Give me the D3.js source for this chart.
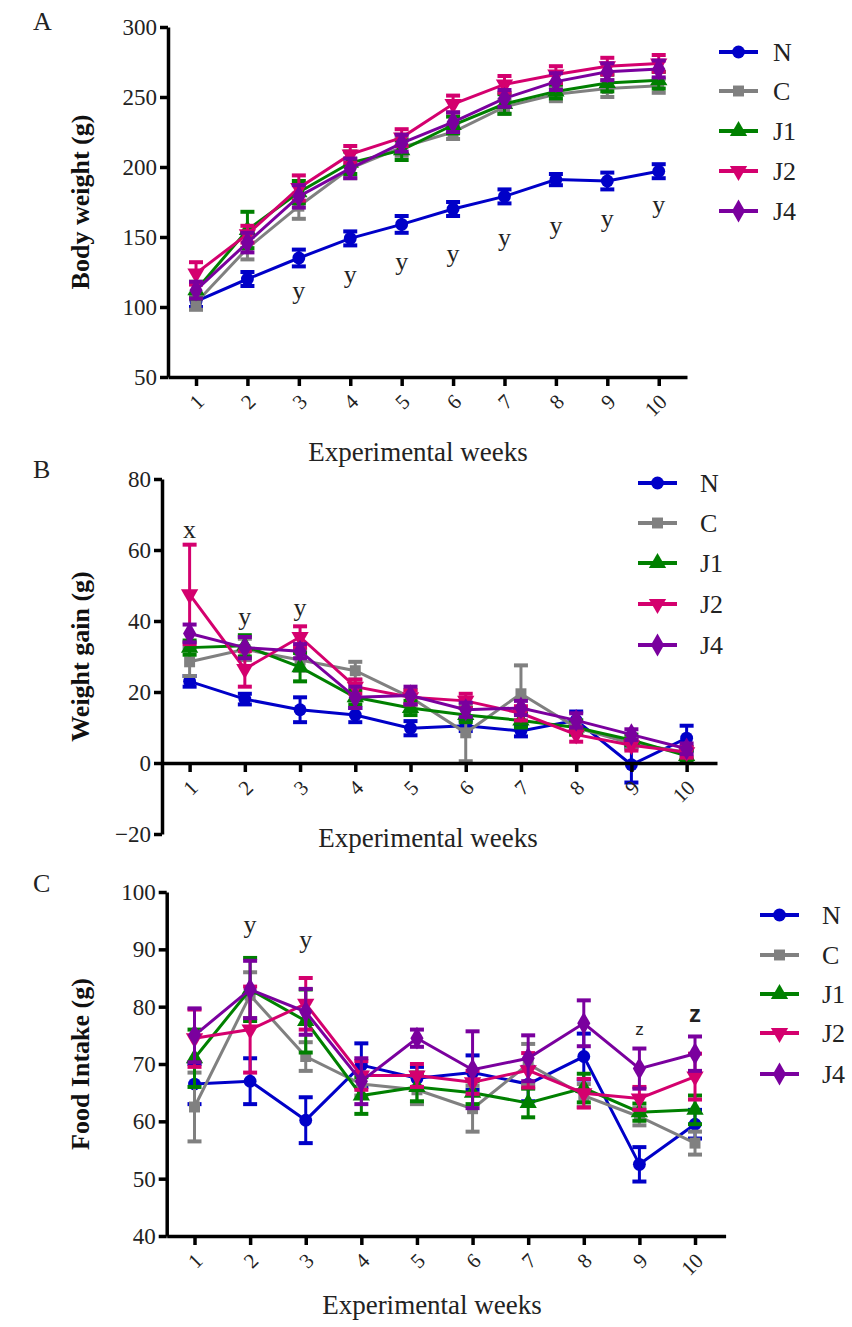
<!DOCTYPE html>
<html>
<head>
<meta charset="utf-8">
<script src="https://cdn.jsdelivr.net/npm/d3@7"></script>
<style>
  body { margin: 0; background: #fff; }
  svg, svg text { font-family: "Liberation Serif", "Times New Roman", Times, "DejaVu Serif", serif; }
  svg text.sans { font-family: "Liberation Sans", Arial, "DejaVu Sans", sans-serif; }
</style>
</head>
<body>
<div id="chart"></div>
<script>
const weeks = [1, 2, 3, 4, 5, 6, 7, 8, 9, 10];
const groups = ["N", "C", "J1", "J2", "J4"];
const colors = { N: "#0000c8", C: "#808080", J1: "#008000", J2: "#d4006e", J4: "#7a009e" };

// A - body weight (g)
const bodyWeightMean = {
  N:  [104, 120, 135, 149, 159, 170, 179, 191, 190, 197],
  C:  [103, 142, 172, 199, 214, 225, 243, 252, 256, 258],
  J1: [112, 155, 182, 203, 212, 230, 245, 254, 260, 262],
  J2: [124, 152, 185, 209, 221, 245, 259, 266, 272, 274],
  J4: [112, 146, 179, 199, 217, 232, 249, 261, 268, 270]
};
const bodyWeightSem = {
  N:  [4, 5, 6, 5, 6, 5, 5, 4, 6, 5],
  C:  [5, 8, 9, 7, 6, 5, 5, 5, 6, 5],
  J1: [6, 13, 8, 8, 7, 6, 7, 5, 6, 6],
  J2: [8, 6, 9, 6, 6, 6, 6, 6, 6, 6],
  J4: [6, 7, 8, 7, 6, 7, 6, 6, 6, 6]
};
const bodyWeightMarks = [
  { week: 3, text: "y", value: 111 }, { week: 4, text: "y", value: 123 },
  { week: 5, text: "y", value: 132 }, { week: 6, text: "y", value: 138 },
  { week: 7, text: "y", value: 149 }, { week: 8, text: "y", value: 158 },
  { week: 9, text: "y", value: 163 }, { week: 10, text: "y", value: 173 }
];

// B - weight gain (g)
const gainMean = {
  N:  [23, 18, 15, 13.5, 9.8, 10.5, 9, 12, -0.5, 7],
  C:  [28.5, 32, 29, 26, 18.5, 8.5, 19.5, 10, 5.5, 3],
  J1: [32.5, 33, 27, 18.5, 15.5, 13.5, 12, 10, 6.5, 2],
  J2: [47.5, 26.5, 35.5, 21.5, 18.5, 17.5, 14, 8, 5, 3],
  J4: [36.5, 32.5, 31.5, 18.5, 19, 15, 15.5, 12, 8, 4]
};
const gainSem = {
  N:  [1.5, 1.5, 3.5, 2, 2, 1.5, 1.5, 2.5, 5, 3.5],
  C:  [4, 3, 3, 2.5, 2, 8, 8, 2, 1.5, 1.5],
  J1: [2, 3, 4, 2, 2, 2, 2, 2, 1.5, 1.5],
  J2: [14, 5, 3, 2, 2, 2, 2, 2, 1.5, 1.5],
  J4: [2.5, 3, 2, 3, 2.5, 2, 2, 2, 1.5, 1.5]
};
const gainMarks = [
  { week: 1, text: "x", value: 65.6 },
  { week: 2, text: "y", value: 41.2 },
  { week: 3, text: "y", value: 43.6 }
];

// C - food intake (g)
const intakeMean = {
  N:  [66.5, 67, 60.2, 69.8, 67.5, 68.5, 66.5, 71.3, 52.5, 59.5],
  C:  [62.5, 82, 71.3, 66.5, 65.5, 62.2, 70, 64.5, 60.8, 56.2],
  J1: [71, 83, 77.5, 64.5, 66, 65, 63.2, 65.8, 61.6, 62],
  J2: [74.5, 76, 80.5, 68, 68, 66.8, 68.9, 64.9, 64, 67.8],
  J4: [75, 83, 79.1, 67, 74.5, 69, 71, 77.1, 69.2, 71.8]
};
const intakeSem = {
  N:  [3.5, 4, 4, 3.8, 2, 3, 3, 4, 3, 2.5],
  C:  [6, 4, 2.5, 2, 2.5, 4, 3.5, 2, 1.5, 2],
  J1: [5, 5.5, 5.5, 3.2, 2.5, 2, 2.5, 2.5, 1.5, 2.5],
  J2: [5, 7.5, 4.5, 2.5, 2, 2, 3, 2.5, 2, 4],
  J4: [4.7, 5, 4, 4, 1.5, 6.7, 4, 4, 3.5, 3]
};
const intakeMarks = [
  { week: 2, text: "y", value: 94.2 },
  { week: 3, text: "y", value: 91.6 },
  { week: 9, text: "z", value: 76, sans: true, size: 17 },
  { week: 10, text: "z", value: 78.6, sans: true, size: 24, bold: true }
];

const W = 852, H = 1327;
const svg = d3.select("#chart").append("svg")
  .attr("width", W).attr("height", H);

function symbolFor(g) {
  if (g === "N") return d3.symbol(d3.symbolCircle, 130)();
  if (g === "C") return d3.symbol(d3.symbolSquare, 120)();
  if (g === "J4") return d3.symbol(d3.symbolDiamond, 150)();
  return d3.symbol(d3.symbolTriangle, 130)();
}
function symbolRot(g) { return g === "J2" ? " rotate(180)" : ""; }

function drawPanel(p) {
  const g = svg.append("g");
  const x = d3.scaleLinear().domain(p.xDomain).range(p.xRange);
  const y = d3.scaleLinear().domain(p.yDomain).range(p.yRange);
  const axisY = p.xAxisAt !== undefined ? y(p.xAxisAt) : p.yRange[0];

  // series
  groups.forEach(k => {
    const col = colors[k];
    const pts = weeks.map((w, i) => ({ w, m: p.mean[k][i], s: p.sem[k][i] }));
    const sg = g.append("g");
    sg.append("path")
      .datum(pts)
      .attr("fill", "none")
      .attr("stroke", col)
      .attr("stroke-width", 3)
      .attr("d", d3.line().x(d => x(d.w)).y(d => y(d.m)));
    const eb = sg.selectAll(".eb").data(pts).enter().append("g");
    eb.append("line")
      .attr("x1", d => x(d.w)).attr("x2", d => x(d.w))
      .attr("y1", d => y(d.m - d.s)).attr("y2", d => y(d.m + d.s))
      .attr("stroke", col).attr("stroke-width", 3);
    [1, -1].forEach(sign => {
      eb.append("line")
        .attr("x1", d => x(d.w) - 7).attr("x2", d => x(d.w) + 7)
        .attr("y1", d => y(d.m + sign * d.s)).attr("y2", d => y(d.m + sign * d.s))
        .attr("stroke", col).attr("stroke-width", 4);
    });
    sg.selectAll(".pt").data(pts).enter().append("path")
      .attr("d", symbolFor(k))
      .attr("transform", d => `translate(${x(d.w)},${y(d.m)})${symbolRot(k)}`)
      .attr("fill", col);
  });

  // axes
  const yAxis = g.append("g")
    .attr("transform", `translate(${p.xRange[0]},0)`)
    .call(d3.axisLeft(y).tickValues(p.yTicks).tickSize(8).tickSizeOuter(0).tickPadding(3));
  const xAxis = g.append("g")
    .attr("transform", `translate(0,${axisY})`)
    .call(d3.axisBottom(x).tickValues(weeks).tickSize(9).tickSizeOuter(0));
  [yAxis, xAxis].forEach(a => {
    a.attr("font-family", null);
    a.select(".domain").attr("stroke", "#000").attr("stroke-width", 3.5);
    a.selectAll(".tick line").attr("stroke", "#000").attr("stroke-width", 3.5);
  });
  yAxis.selectAll(".tick text")
    .attr("font-size", 23).attr("fill", "#222");
  xAxis.selectAll(".tick text")
    .attr("font-size", 21).attr("fill", "#222")
    .attr("text-anchor", "end")
    .attr("dy", 0)
    .attr("y", 0)
    .attr("transform", "translate(9,26) rotate(-45)");

  // significance letters
  g.selectAll(".sig").data(p.marks).enter().append("text")
    .attr("class", d => d.sans ? "sans" : null)
    .attr("x", d => x(d.week))
    .attr("y", d => y(d.value))
    .attr("dy", "0.3em")
    .attr("text-anchor", "middle")
    .attr("font-weight", d => d.bold ? "bold" : "normal")
    .attr("font-size", d => d.size || 26)
    .attr("fill", "#222")
    .text(d => d.text);

  // titles
  g.append("text")
    .attr("transform", `translate(${p.yTitleX},${(p.yRange[0] + p.yRange[1]) / 2}) rotate(-90)`)
    .attr("text-anchor", "middle")
    .attr("font-weight", "bold")
    .attr("font-size", 26)
    .attr("fill", "#111")
    .text(p.yTitle);
  g.append("text")
    .attr("x", p.xTitleX).attr("y", p.xTitleY)
    .attr("text-anchor", "middle")
    .attr("font-size", 27)
    .attr("fill", "#222")
    .text("Experimental weeks");
  g.append("text")
    .attr("x", 33).attr("y", p.letterY)
    .attr("font-size", 26)
    .attr("fill", "#222")
    .text(p.letter);

  // legend
  const lg = g.append("g").selectAll("g").data(groups).enter().append("g")
    .attr("transform", (d, i) => `translate(${p.legend.x},${p.legend.y[i]})`);
  lg.append("line")
    .attr("x1", 0).attr("x2", 39)
    .attr("stroke", d => colors[d]).attr("stroke-width", 4);
  lg.append("path")
    .attr("d", d => symbolFor(d))
    .attr("transform", d => `translate(19.5,0)${symbolRot(d)}`)
    .attr("fill", d => colors[d]);
  lg.append("text")
    .attr("x", p.legend.tx)
    .attr("dy", "0.35em")
    .attr("font-size", 26)
    .attr("fill", "#222")
    .text(d => d);
}

drawPanel({
  letter: "A", letterY: 30,
  mean: bodyWeightMean, sem: bodyWeightSem, marks: bodyWeightMarks,
  xDomain: [0.455, 10.55], xRange: [168, 687],
  yDomain: [50, 300], yRange: [377, 27], yTicks: [50, 100, 150, 200, 250, 300],
  yTitle: "Body weight (g)", yTitleX: 89,
  xTitleX: 418, xTitleY: 461,
  legend: { x: 719, tx: 54, y: [52, 91, 131, 171, 211] }
});

drawPanel({
  letter: "B", letterY: 478,
  mean: gainMean, sem: gainSem, marks: gainMarks,
  xDomain: [0.5, 10.55], xRange: [162, 717], xAxisAt: 0,
  yDomain: [-20, 80], yRange: [834, 479], yTicks: [-20, 0, 20, 40, 60, 80],
  yTitle: "Weight gain (g)", yTitleX: 89,
  xTitleX: 428, xTitleY: 847,
  legend: { x: 638, tx: 62, y: [483, 523, 563, 604, 645] }
});

drawPanel({
  letter: "C", letterY: 892,
  mean: intakeMean, sem: intakeSem, marks: intakeMarks,
  xDomain: [0.5, 10.55], xRange: [166.7, 725.6],
  yDomain: [40, 100], yRange: [1236, 892], yTicks: [40, 50, 60, 70, 80, 90, 100],
  yTitle: "Food Intake (g)", yTitleX: 89,
  xTitleX: 432, xTitleY: 1314,
  legend: { x: 760, tx: 62, y: [915, 955, 994, 1033, 1074] }
});
</script>
</body>
</html>
